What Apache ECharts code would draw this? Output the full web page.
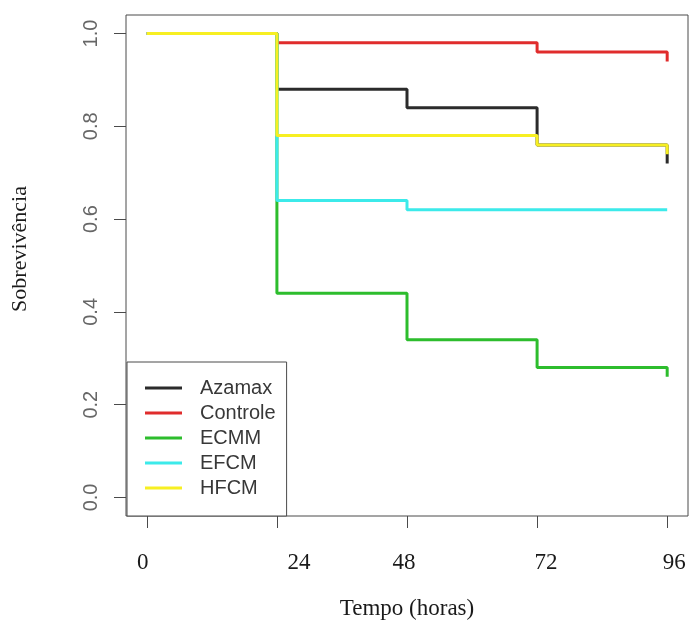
<!DOCTYPE html>
<html>
<head>
<meta charset="utf-8">
<script src="https://cdn.jsdelivr.net/npm/echarts@6/dist/echarts.min.js"></script>
<style>html,body{margin:0;padding:0;background:#fff;}#c{width:691px;height:623px;}</style>
</head>
<body>
<div id="c"></div>
<script>
// Data (Kaplan-Meier survival)
const times = [0, 24, 48, 72, 96];
const azamax   = [1.00, 0.88, 0.84, 0.76, 0.72];
const controle = [1.00, 0.98, 0.98, 0.96, 0.94];
const ecmm     = [1.00, 0.44, 0.34, 0.28, 0.26];
const efcm     = [1.00, 0.64, 0.62, 0.62, 0.62];
const hfcm     = [1.00, 0.78, 0.78, 0.76, 0.74];
const seriesNames = ['Azamax', 'Controle', 'ECMM', 'EFCM', 'HFCM'];
const xTicks = [0, 24, 48, 72, 96];
const yTicks = [0, 0.2, 0.4, 0.6, 0.8, 1.0];

// styling
const colors = ['#2b2b2b', '#e02c2c', '#2dbd2d', '#3ceaea', '#f7ef22'];
const valueSets = [azamax, controle, ecmm, efcm, hfcm];
const xLabelShift = [-4, 22, -3, 9, 7];   // the reference's x labels sit slightly off their ticks

const serif = '"Liberation Serif", "DejaVu Serif", serif';
const sans = '"Liberation Sans", Arial, sans-serif';

const rich = {};
xLabelShift.forEach((d, i) => {
  rich['o' + i] = {
    fontFamily: serif, fontSize: 23, color: '#1a1a1a',
    padding: d >= 0 ? [0, 0, 0, 2 * d] : [0, -2 * d, 0, 0]
  };
});

const chart = echarts.init(document.getElementById('c'), null, {renderer: 'canvas'});

const option = {
  animation: false,
  backgroundColor: '#fff',
  grid: {
    left: 126, right: 3, top: 15, bottom: 107,
    show: true, borderColor: '#4a4a4a', borderWidth: 1,
    containLabel: false, outerBoundsMode: 'none'
  },
  xAxis: {
    type: 'value', min: -3.84, max: 99.84,
    splitLine: {show: false},
    axisLine: {show: false, onZero: false},
    axisTick: {show: true, customValues: xTicks, length: 12, inside: false, lineStyle: {color: '#4a4a4a'}},
    axisLabel: {
      customValues: xTicks, margin: 35, fontFamily: serif, fontSize: 23, color: '#1a1a1a',
      formatter: v => { const i = xTicks.indexOf(v); return '{o' + i + '|' + v + '}'; },
      rich: rich
    }
  },
  yAxis: {
    type: 'value', min: -0.04, max: 1.04,
    splitLine: {show: false},
    axisLine: {show: false, onZero: false},
    axisTick: {show: true, customValues: yTicks, length: 12, inside: false, lineStyle: {color: '#4a4a4a'}},
    axisLabel: {customValues: yTicks, rotate: 90, margin: 25, fontFamily: sans, fontSize: 20, color: '#666',
      formatter: v => v.toFixed(1)}
  },
  legend: {
    orient: 'vertical', left: 127, top: 362,
    padding: [16, 11, 18, 18],
    itemWidth: 37, itemHeight: 3, itemGap: 5,
    icon: 'rect',
    borderColor: '#4a4a4a', borderWidth: 1, backgroundColor: '#fff', borderRadius: 0,
    textStyle: {fontFamily: sans, fontSize: 20, color: '#383838', lineHeight: 20, padding: [0, 0, 0, 13]},
    data: seriesNames
  },
  graphic: [
    {type: 'text', x: 407, y: 609,
     style: {text: 'Tempo (horas)', font: '23px ' + serif, fill: '#1a1a1a', textAlign: 'center', textVerticalAlign: 'middle'}},
    {type: 'text', rotation: Math.PI / 2, x: 20, y: 249,
     style: {text: 'Sobrevivência', font: '22px ' + serif, fill: '#1a1a1a', textAlign: 'center', textVerticalAlign: 'middle'}}
  ],
  series: seriesNames.map((name, k) => ({
    name: name,
    type: 'line',
    step: 'end',
    symbol: 'none',
    color: colors[k],
    lineStyle: {width: 3, color: colors[k]},
    itemStyle: {color: colors[k]},
    data: times.map((t, i) => [t, valueSets[k][i]])
  }))
};
chart.setOption(option);
</script>
</body>
</html>
